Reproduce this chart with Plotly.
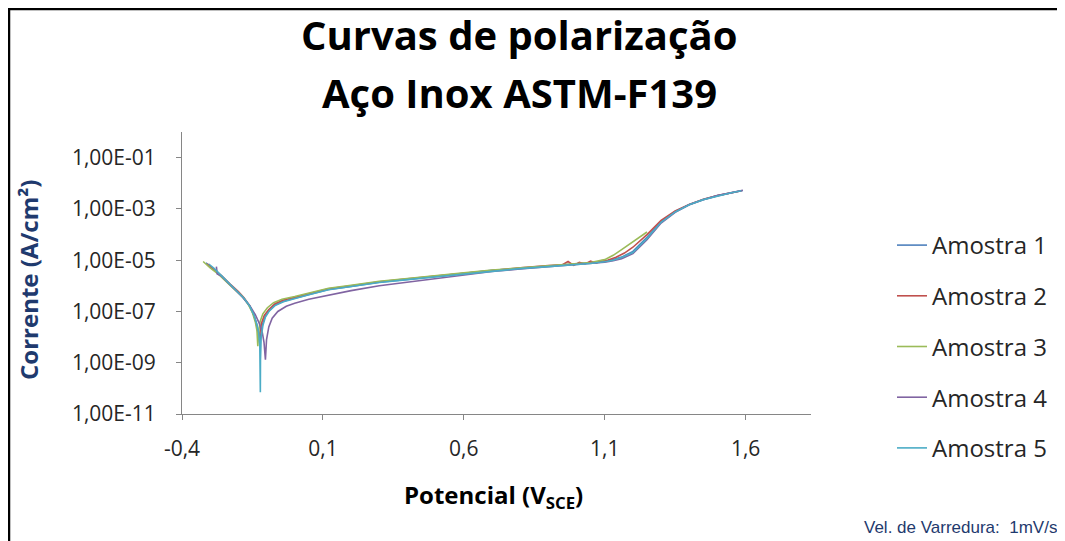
import plotly.graph_objects as go

# ---------------- data ----------------
series_names = ["Amostra 1", "Amostra 2", "Amostra 3", "Amostra 4", "Amostra 5"]

e1 = [-0.315, -0.29, -0.26, -0.23, -0.20, -0.18, -0.16, -0.145, -0.135, -0.128, -0.124, -0.120,
      -0.114, -0.105, -0.09, -0.07, -0.04, 0.0, 0.05, 0.12, 0.2, 0.3, 0.4, 0.5, 0.6, 0.7, 0.8,
      0.9, 1.0, 1.05, 1.1, 1.13, 1.16, 1.2, 1.25, 1.3, 1.35, 1.4, 1.45, 1.5, 1.55, 1.59]
i1 = [7.9e-6, 4.5e-6, 2.4e-6, 1.1e-6, 5.6e-7, 3.2e-7, 1.6e-7, 7.1e-8, 3.2e-8, 1.4e-8, 6.0e-9, 1.3e-8,
      3.2e-8, 6.3e-8, 1.1e-7, 1.8e-7, 2.5e-7, 3.3e-7, 4.7e-7, 7.2e-7, 9.5e-7, 1.38e-6, 1.78e-6, 2.3e-6,
      3.1e-6, 4.0e-6, 4.8e-6, 5.8e-6, 6.9e-6, 7.6e-6, 8.9e-6, 1.05e-5, 1.32e-5, 2.2e-5, 7.8e-5,
      3.2e-4, 7.9e-4, 1.48e-3, 2.35e-3, 3.3e-3, 4.4e-3, 5.2e-3]

e2 = [-0.31, -0.285, -0.26, -0.23, -0.20, -0.18, -0.16, -0.146, -0.137, -0.131, -0.127, -0.124,
      -0.118, -0.108, -0.092, -0.07, -0.04, 0.0, 0.05, 0.12, 0.2, 0.3, 0.4, 0.5, 0.6, 0.7, 0.8,
      0.9, 0.95, 0.97, 0.99, 1.01, 1.03, 1.05, 1.07, 1.09, 1.11, 1.14, 1.17, 1.2, 1.25, 1.3, 1.35,
      1.4, 1.45, 1.5, 1.55, 1.585]
i2 = [7.2e-6, 4.3e-6, 2.5e-6, 1.2e-6, 6.0e-7, 3.4e-7, 1.7e-7, 7.9e-8, 3.6e-8, 1.6e-8, 7.9e-9, 1.4e-8,
      3.5e-8, 7.1e-8, 1.2e-7, 2.0e-7, 2.8e-7, 3.6e-7, 5.0e-7, 7.6e-7, 1.0e-6, 1.45e-6, 1.86e-6, 2.4e-6,
      3.2e-6, 4.1e-6, 5.0e-6, 6.2e-6, 6.6e-6, 8.9e-6, 6.3e-6, 8.3e-6, 7.1e-6, 9.1e-6, 7.6e-6, 9.6e-6,
      1.0e-5, 1.3e-5, 1.9e-5, 3.2e-5, 1.0e-4, 3.6e-4, 8.3e-4, 1.5e-3, 2.4e-3, 3.3e-3, 4.4e-3, 5.1e-3]

e3 = [-0.325, -0.30, -0.27, -0.24, -0.21, -0.185, -0.165, -0.15, -0.14, -0.134, -0.131, -0.128,
      -0.123, -0.113, -0.097, -0.075, -0.045, 0.0, 0.05, 0.12, 0.2, 0.3, 0.4, 0.5, 0.6, 0.7, 0.8,
      0.9, 1.0, 1.05, 1.1, 1.13, 1.16, 1.19, 1.22, 1.25]
i3 = [8.9e-6, 5.0e-6, 2.8e-6, 1.3e-6, 6.6e-7, 3.7e-7, 1.9e-7, 8.9e-8, 4.0e-8, 1.8e-8, 4.4e-9, 1.6e-8,
      4.0e-8, 8.1e-8, 1.4e-7, 2.2e-7, 3.0e-7, 3.8e-7, 5.3e-7, 8.0e-7, 1.05e-6, 1.5e-6, 1.9e-6, 2.4e-6,
      3.2e-6, 4.1e-6, 4.9e-6, 5.9e-6, 7.1e-6, 8.1e-6, 1.05e-5, 1.55e-5, 2.6e-5, 4.5e-5, 7.9e-5, 1.26e-4]

e4 = [-0.278, -0.275, -0.26, -0.235, -0.21, -0.185, -0.16, -0.14, -0.125, -0.115, -0.109, -0.106,
      -0.104, -0.100, -0.092, -0.08, -0.06, -0.03, 0.0, 0.05, 0.12, 0.2, 0.3, 0.4, 0.5, 0.6, 0.7,
      0.8, 0.9, 1.0, 1.05, 1.1, 1.13, 1.16, 1.2, 1.25, 1.3, 1.35, 1.4, 1.45, 1.5, 1.55, 1.59]
i4 = [5.6e-6, 2.9e-6, 2.4e-6, 1.3e-6, 6.8e-7, 3.6e-7, 1.7e-7, 7.6e-8, 3.3e-8, 1.5e-8, 6.3e-9, 2.5e-9,
      1.3e-9, 8.0e-9, 2.5e-8, 5.5e-8, 1.0e-7, 1.6e-7, 2.1e-7, 3.0e-7, 4.4e-7, 6.5e-7, 1.0e-6, 1.4e-6,
      1.95e-6, 2.7e-6, 3.6e-6, 4.5e-6, 5.5e-6, 6.6e-6, 7.2e-6, 8.3e-6, 9.5e-6, 1.15e-5, 1.8e-5, 6.3e-5,
      2.8e-4, 7.4e-4, 1.45e-3, 2.3e-3, 3.3e-3, 4.4e-3, 5.3e-3]

e5 = [-0.305, -0.285, -0.26, -0.23, -0.20, -0.18, -0.16, -0.145, -0.135, -0.128, -0.124, -0.1225,
      -0.122, -0.1215, -0.119, -0.113, -0.104, -0.09, -0.07, -0.04, 0.0, 0.05, 0.12, 0.2, 0.3, 0.4,
      0.5, 0.6, 0.7, 0.8, 0.9, 1.0, 1.05, 1.1, 1.13, 1.16, 1.2, 1.25, 1.3, 1.35, 1.4, 1.45, 1.5,
      1.55, 1.585]
i5 = [7.1e-6, 4.7e-6, 2.5e-6, 1.15e-6, 5.8e-7, 3.3e-7, 1.65e-7, 7.4e-8, 3.3e-8, 1.5e-8, 5.0e-9, 1.0e-9,
      7.1e-11, 1.2e-9, 1.0e-8, 2.8e-8, 6.0e-8, 1.05e-7, 1.7e-7, 2.4e-7, 3.2e-7, 4.5e-7, 7.0e-7, 9.3e-7,
      1.35e-6, 1.75e-6, 2.25e-6, 3.0e-6, 3.9e-6, 4.7e-6, 5.6e-6, 6.6e-6, 7.4e-6, 8.7e-6, 1.0e-5,
      1.26e-5, 2.0e-5, 7.1e-5, 3.0e-4, 7.6e-4, 1.45e-3, 2.3e-3, 3.25e-3, 4.3e-3, 5.1e-3]

x_tickvals = [-0.4, 0.1, 0.6, 1.1, 1.6]
x_ticktext = ["-0,4", "0,1", "0,6", "1,1", "1,6"]
y_tickvals = [1e-11, 1e-9, 1e-7, 1e-5, 1e-3, 1e-1]
y_ticktext = ["1,00E-11", "1,00E-09", "1,00E-07", "1,00E-05", "1,00E-03", "1,00E-01"]

colors = ["#4F81BD", "#C0504D", "#9BBB59", "#8064A2", "#4BACC6"]
xs = [e1, e2, e3, e4, e5]
ys = [i1, i2, i3, i4, i5]

# ---------------- figure ----------------
# the page body adds an 8 px offset, so the figure is 8 px smaller
OFF = 8
W, H = 1065 - OFF, 541 - OFF
L, R, T, B = 174, 254, 124, 127
pw, ph = W - L - R, H - T - B

def fx(px):  # reference-window x pixel -> paper
    return (px - OFF - L) / pw

def fy(py):  # reference-window y pixel -> paper
    return (H - B - (py - OFF)) / ph

FONT = "Open Sans"

fig = go.Figure()
for k in range(5):
    fig.add_trace(go.Scatter(
        x=xs[k], y=ys[k], mode="lines", name=series_names[k],
        line=dict(color=colors[k], width=1.6), legendgroup=f"g{k}"))

axis_common = dict(showline=True, linecolor="#868686", linewidth=1, ticks="outside",
                   tickcolor="#868686", ticklen=5, showgrid=False, zeroline=False,
                   tickfont=dict(family=FONT, size=21, color="#262626"))

fig.update_xaxes(range=[-0.4, 1.832], tickvals=x_tickvals, ticktext=x_ticktext,
                 ticklabelstandoff=11, **axis_common)
fig.update_yaxes(type="log", range=[-11, 0], tickvals=y_tickvals, ticktext=y_ticktext,
                 ticklabelstandoff=16, **axis_common)

anns = [
    dict(text="<b>Curvas de polarização</b>", x=fx(519), y=fy(34),
         font=dict(family=FONT, size=40, color="#000000")),
    dict(text="<b>Aço Inox ASTM-F139</b>", x=fx(519), y=fy(92),
         font=dict(family=FONT, size=40, color="#000000")),
    dict(text="<b>Potencial (V<sub>SCE</sub>)</b>", x=fx(493), y=fy(496),
         font=dict(family=FONT, size=24, color="#000000")),
    dict(text="<b>Corrente (A/cm²)</b>", x=fx(28), y=fy(280), textangle=-90,
         font=dict(family=FONT, size=24, color="#1F3A6E")),
    dict(text="Vel. de Varredura:\u00a0 1mV/s", x=fx(1059), y=fy(527), xanchor="right",
         font=dict(family="Liberation Sans", size=17, color="#1F3A6E")),
]
for a in anns:
    a.setdefault("xanchor", "center")
    a.update(xref="paper", yref="paper", yanchor="middle", showarrow=False)

fig.update_layout(
    width=W, height=H,
    margin=dict(l=L, r=R, t=T, b=B, pad=0),
    paper_bgcolor="white", plot_bgcolor="white",
    annotations=anns,
    showlegend=True,
    legend=dict(x=fx(892), y=fy(223), xanchor="left", yanchor="top",
                font=dict(family=FONT, size=24, color="#262626"),
                tracegroupgap=16.5, bgcolor="rgba(0,0,0,0)"),
    shapes=[
        dict(type="line", xref="paper", yref="paper", x0=fx(OFF), x1=fx(1075),
             y0=fy(OFF + 1), y1=fy(OFF + 1), line=dict(color="black", width=2.5)),
        dict(type="line", xref="paper", yref="paper", x0=fx(OFF + 1), x1=fx(OFF + 1),
             y0=fy(OFF), y1=fy(560), line=dict(color="black", width=2.5)),
    ],
)

fig.write_html("out.html")
